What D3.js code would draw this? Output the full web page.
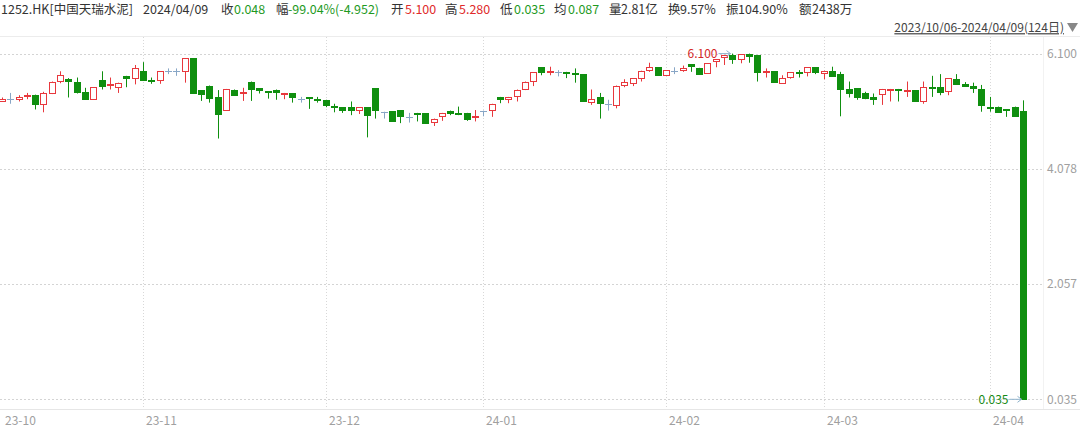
<!DOCTYPE html>
<html><head><meta charset="utf-8">
<script src="https://cdn.jsdelivr.net/npm/d3@7"></script>
<style>
html,body{margin:0;padding:0;background:#fff;}
svg{display:block;font-family:"Microsoft YaHei","Noto Sans CJK SC","Noto Sans",sans-serif;}
</style></head>
<body><svg id="c" width="1080" height="429"></svg>
<script>
// ---- data (124 trading days, 2023/10/06 - 2024/04/09) ----
const open = [5.27,5.30,5.31,5.36,5.38,5.22,5.41,5.61,5.66,5.61,
5.43,5.30,5.64,5.55,5.52,5.71,5.67,5.80,5.63,5.63,
5.79,5.79,5.79,6.02,5.46,5.54,5.33,5.11,5.47,5.42,
5.61,5.49,5.44,5.47,5.40,5.40,5.30,5.33,5.31,5.29,
5.18,5.16,5.16,5.11,5.16,5.49,5.08,5.09,5.11,4.99,
5.06,5.05,4.90,5.00,5.10,5.06,5.06,4.99,5.10,5.12,
5.34,5.30,5.36,5.49,5.61,5.86,5.78,5.77,5.78,5.76,
5.74,5.25,5.33,5.21,5.21,5.55,5.58,5.68,5.81,5.86,
5.72,5.80,5.80,5.91,5.85,5.75,5.96,6.03,6.07,6.00,
6.10,6.07,5.78,5.79,5.58,5.68,5.78,5.78,5.86,5.77,
5.80,5.75,5.48,5.49,5.40,5.33,5.40,5.47,5.48,5.45,
5.46,5.27,5.52,5.51,5.44,5.65,5.57,5.53,5.48,5.16,
5.17,5.12,5.17,5.10];
const high = [5.33,5.41,5.37,5.41,5.38,5.43,5.61,5.79,5.67,5.68,
5.50,5.51,5.79,5.68,5.59,5.71,5.90,5.95,5.68,5.79,
5.84,5.84,6.02,6.02,5.46,5.54,5.46,5.48,5.47,5.50,
5.61,5.49,5.44,5.47,5.41,5.40,5.34,5.33,5.34,5.29,
5.22,5.16,5.26,5.16,5.16,5.49,5.08,5.09,5.11,5.06,
5.06,5.05,4.96,5.06,5.10,5.17,5.06,5.11,5.10,5.22,
5.34,5.34,5.47,5.61,5.77,5.86,5.87,5.81,5.78,5.84,
5.74,5.47,5.41,5.29,5.54,5.65,5.67,5.80,5.94,5.86,
5.81,5.86,5.89,5.91,5.85,5.93,6.00,6.07,6.10,6.09,
6.10,6.07,5.84,5.79,5.72,5.77,5.81,5.86,5.86,5.80,
5.87,5.78,5.61,5.49,5.43,5.40,5.48,5.48,5.48,5.61,
5.46,5.61,5.71,5.74,5.67,5.74,5.60,5.59,5.55,5.34,
5.17,5.12,5.17,5.28];
const low = [5.26,5.22,5.26,5.30,5.12,5.07,5.39,5.58,5.33,5.40,
5.30,5.30,5.47,5.47,5.41,5.51,5.56,5.64,5.57,5.57,
5.74,5.71,5.59,5.41,5.27,5.24,4.61,5.10,5.39,5.27,
5.27,5.40,5.31,5.29,5.30,5.24,5.24,5.13,5.24,5.16,
5.07,5.06,5.02,5.04,4.63,4.96,4.96,4.92,4.88,4.89,
4.91,4.88,4.83,4.92,5.02,5.02,4.92,4.91,5.00,4.99,
5.23,5.23,5.26,5.46,5.53,5.72,5.72,5.70,5.67,5.59,
5.26,5.20,4.96,5.10,5.14,5.51,5.53,5.61,5.78,5.72,
5.72,5.74,5.78,5.78,5.75,5.75,5.86,5.90,5.92,5.93,
5.94,5.61,5.68,5.59,5.58,5.66,5.68,5.70,5.74,5.65,
5.71,5.00,5.33,5.29,5.30,5.20,5.20,5.26,5.26,5.34,
5.27,5.22,5.34,5.37,5.37,5.57,5.54,5.41,5.08,5.08,
5.06,4.99,4.99,0.035];
const close = [5.30,5.30,5.34,5.37,5.22,5.41,5.61,5.72,5.63,5.43,
5.30,5.51,5.54,5.56,5.59,5.67,5.84,5.64,5.62,5.79,
5.79,5.79,6.02,5.41,5.39,5.33,5.04,5.48,5.39,5.43,
5.49,5.45,5.43,5.43,5.41,5.33,5.30,5.32,5.29,5.20,
5.17,5.11,5.10,5.16,5.02,5.10,5.08,4.92,5.01,4.99,
5.05,4.88,4.96,5.06,5.07,5.04,4.96,5.00,5.10,5.22,
5.31,5.34,5.47,5.61,5.77,5.78,5.79,5.77,5.77,5.75,
5.26,5.31,5.22,5.21,5.54,5.60,5.67,5.80,5.87,5.72,
5.81,5.80,5.84,5.87,5.75,5.93,6.00,6.07,6.00,6.09,
6.07,5.78,5.79,5.59,5.67,5.77,5.77,5.86,5.77,5.80,
5.72,5.49,5.41,5.33,5.31,5.29,5.48,5.48,5.47,5.46,
5.27,5.51,5.51,5.43,5.67,5.57,5.54,5.50,5.20,5.15,
5.08,5.11,5.02,0.048];
const monthTickIndex = [0,17,39,58,80,99,119];
const monthTickLabels = ["23-10","23-11","23-12","24-01","24-02","24-03","24-04"];
const yTickValues = [6.100,4.078,2.057,0.035];
const maxIndex = 88, maxValue = 6.100;
const minIndex = 123, minValue = 0.035;
const headerItems = [
  {t:"1252.HK[中国天瑞水泥]", x:1, c:"#333"},
  {t:"2024/04/09", x:143, c:"#333"},
  {t:"收", x:221, c:"#333"}, {t:"0.048", x:234, c:"g"},
  {t:"幅", x:276, c:"#333"}, {t:"-99.04%(-4.952)", x:288, c:"g"},
  {t:"开", x:391, c:"#333"}, {t:"5.100", x:405, c:"r"},
  {t:"高", x:445, c:"#333"}, {t:"5.280", x:459, c:"r"},
  {t:"低", x:500, c:"#333"}, {t:"0.035", x:514, c:"g"},
  {t:"均", x:554, c:"#333"}, {t:"0.087", x:568, c:"g"},
  {t:"量", x:609, c:"#333"}, {t:"2.81亿", x:621, c:"#333"},
  {t:"换", x:668, c:"#333"}, {t:"9.57%", x:680, c:"#333"},
  {t:"振", x:726, c:"#333"}, {t:"104.90%", x:738, c:"#333"},
  {t:"额", x:799, c:"#333"}, {t:"2438万", x:812, c:"#333"}
];
const rangeText = "2023/10/06-2024/04/09(124日)";

// ---- drawing ----
const RED = "#e8383d", GREEN = "#0f8f0f", FLAT = "#88a6c6", HRED="#e02a2a", HGREEN="#1f9a1f";
const svg = d3.select("#c");
const n = open.length;
const x = d3.scaleBand().domain(d3.range(n)).range([-2.25, -2.25 + 124*8.3]);
const y = d3.scaleLinear().domain([0.035, 6.1]).range([399.3, 53.6]);
const cx = i => Math.round(x(i) + x.bandwidth()/2) + 0.5;
const plotRight = 1043;

// top & bottom border lines
svg.append("line").attr("x1",0).attr("x2",1080).attr("y1",36.5).attr("y2",36.5).attr("stroke","#ececec");
svg.append("line").attr("x1",0).attr("x2",1080).attr("y1",409.5).attr("y2",409.5).attr("stroke","#e6e6e6");
svg.append("line").attr("x1",plotRight+0.5).attr("x2",plotRight+0.5).attr("y1",37).attr("y2",409).attr("stroke","#f2f2f2");

// horizontal grid
svg.append("g").selectAll("line").data(yTickValues).join("line")
  .attr("x1",0).attr("x2",plotRight)
  .attr("y1",d=>Math.round(y(d))+0.5).attr("y2",d=>Math.round(y(d))+0.5)
  .attr("stroke","#d4d4d4").attr("stroke-dasharray","2,2");
// y labels
svg.append("g").selectAll("text").data(yTickValues).join("text")
  .attr("x",1077).attr("y",d=>y(d)).attr("dy","0.35em").attr("text-anchor","end")
  .attr("font-size",12).attr("fill","#a0a0a0").text(d=>d3.format(".3f")(d));

// vertical month grid + labels
svg.append("g").selectAll("line").data(monthTickIndex.slice(1)).join("line")
  .attr("x1",d=>cx(d)).attr("x2",d=>cx(d)).attr("y1",37).attr("y2",409)
  .attr("stroke","#d8d8d8").attr("stroke-dasharray","1,2");
svg.append("g").selectAll("text").data(monthTickIndex).join("text")
  .attr("x",(d,k)=>cx(d)+2.5).attr("y",421).attr("dy","0.35em")
  .attr("font-size",12).attr("fill","#a0a0a0").text((d,k)=>monthTickLabels[k]);

// candles
const g = svg.append("g");
const bw = 6;
for (let i=0;i<n;i++){
  const o=open[i], c=close[i], h=high[i], l=low[i];
  const col = c>o ? RED : (c<o ? GREEN : FLAT);
  const xc = cx(i);
  g.append("line").attr("x1",xc).attr("x2",xc).attr("y1",y(h)).attr("y2",y(l)).attr("stroke",col).attr("stroke-width",1);
  if (c===o){
    const yy = Math.round(y(o))+0.5;
    g.append("line").attr("x1",xc-3.5).attr("x2",xc+3.5).attr("y1",yy).attr("y2",yy).attr("stroke",col);
  } else {
    const top = y(Math.max(o,c)), bot = y(Math.min(o,c));
    if (c>o){
      g.append("rect").attr("x",xc-3).attr("y",Math.round(top)+0.5).attr("width",bw)
        .attr("height",Math.max(1,Math.round(bot-top))).attr("fill","#fff").attr("stroke",col);
    } else {
      g.append("rect").attr("x",xc-3.5).attr("y",Math.round(top)).attr("width",bw+1)
        .attr("height",Math.max(1,Math.round(bot-top))+1).attr("fill",col);
    }
  }
}

// max / min markers
const arrowCol = "#8fb3cc";
function marker(idx, val, col){
  const xc = cx(idx), yy = y(val);
  const x0 = xc - 14, x1 = xc - 2;
  svg.append("line").attr("x1",x0).attr("x2",x1).attr("y1",yy).attr("y2",yy).attr("stroke",arrowCol);
  svg.append("path").attr("d",`M${x1-4},${yy-3}L${x1},${yy}L${x1-4},${yy+3}`).attr("fill","none").attr("stroke",arrowCol);
  svg.append("text").attr("x",x0-1).attr("y",yy).attr("dy","0.35em").attr("text-anchor","end")
    .attr("font-size",12).attr("fill",col).text(d3.format(".3f")(val));
}
marker(maxIndex, maxValue, "#d42a2a");
marker(minIndex, minValue, "#178a17");

// header
const hc = c => c==="g" ? HGREEN : (c==="r" ? HRED : c);
svg.append("g").selectAll("text").data(headerItems).join("text")
  .attr("x",d=>d.x).attr("y",14).attr("font-size",12.5)
  .attr("fill",d=>hc(d.c)).text(d=>d.t);
svg.append("text").attr("x",1064).attr("y",28).attr("dy","0.35em").attr("text-anchor","end")
  .attr("font-size",12).attr("fill","#444").attr("text-decoration","underline").text(rangeText);
svg.append("path").attr("d","M1067,23L1078,23L1072.5,32Z").attr("fill","#888");
</script></body></html>
